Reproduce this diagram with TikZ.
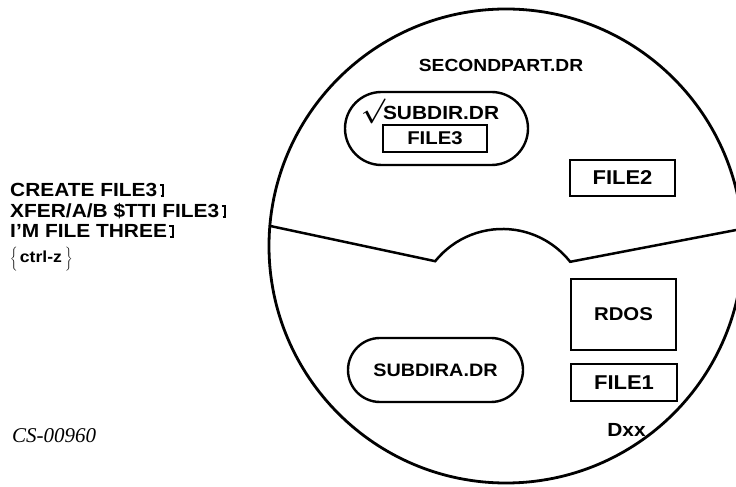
\documentclass[tikz,border=0pt]{standalone}
\usepackage{fontspec}
\setmainfont{Liberation Sans}
\newfontfamily\labfont{Liberation Sans}[FakeStretch=1.1]
\newfontfamily\capfont{Liberation Serif}
\newcommand\fsz[1]{\labfont\bfseries\fontsize{#1}{#1}\selectfont}
\newcommand\crsym{\kern0.16em\rlap{\kern-0.03em\rule[0.58em]{0.13em}{0.1em}}\rlap{\kern0.02em\rule{0.19em}{0.1em}}\kern0.08em\rule{0.13em}{0.68em}\kern0.05em}
\tikzset{
  lbl/.style={inner sep=0pt, font=\fsz{19}},
  filebox/.style={draw, line width=2.6pt, minimum width=105pt, inner sep=0pt},
  stadium/.style={draw, line width=2.4pt, rounded corners=#1, inner sep=0pt},
}
\begin{document}
\begin{tikzpicture}[x=1pt,y=1pt]
\useasboundingbox (0,0) rectangle (736,487);
% disk outline
\draw[line width=2.8pt] (506,241) circle[radius=237pt];
% dividing line
\draw[line width=2.5pt] (270.3,261) -- (435.2,225.8)
  arc[start angle=141.2, end angle=38.3, radius=86.3pt] -- (742.4,258.2);
% upper part
\node[lbl, font=\fsz{17.5}, anchor=base] (second) at (501,415) {SECONDPART.DR};
\node[stadium=36.5pt, minimum width=183pt, minimum height=73pt] (subdir) at (436.5,358.5) {};
\node[lbl, anchor=base west] (subdirlbl) at (361,367)
  {\raisebox{2.5pt}{\fontsize{24}{24}\selectfont\boldmath$\surd$}\kern-2pt SUBDIR.DR};
\node[filebox, minimum width=104pt, minimum height=27pt, font=\fsz{18.5}] (file3) at (435,348.5) {FILE3};
\node[filebox, minimum height=36pt, font=\fsz{20}] (file2) at (622.5,309) {FILE2};
% lower part
\node[filebox, minimum height=71pt, font=\fsz{18.5}] (rdos) at (623.5,172.5) {RDOS};
\node[filebox, minimum width=106pt, minimum height=37pt, font=\fsz{20}] (file1) at (624,104.5) {FILE1};
\node[stadium=32pt, minimum width=175pt, minimum height=64pt, font=\fsz{18}] (subdira) at (435.5,117) {SUBDIRA.DR};
\node[lbl, anchor=base] (dxx) at (626.5,50) {Dxx};
% commands
\node[lbl, anchor=base west] (l1) at (10,290) {CREATE FILE3\crsym};
\node[lbl, anchor=base west] (l2) at (10,269) {XFER/A/B \$TTI FILE3\crsym};
\node[lbl, anchor=base west] (l3) at (10,249) {I’M FILE THREE\crsym};
\node[lbl, anchor=base west] (l4) at (10,224)
  {$\left\{\vrule height 16pt depth 7pt width 0pt\right.$\kern1pt{\fontsize{16}{16}\selectfont ctrl-z}\kern2pt$\left.\vrule height 16pt depth 7pt width 0pt\right\}$};
% figure number
\node[inner sep=0pt, anchor=base west, font=\capfont\itshape\fontsize{21}{21}\selectfont] (cs) at (12,44) {CS-00960};
\end{tikzpicture}
\end{document}
